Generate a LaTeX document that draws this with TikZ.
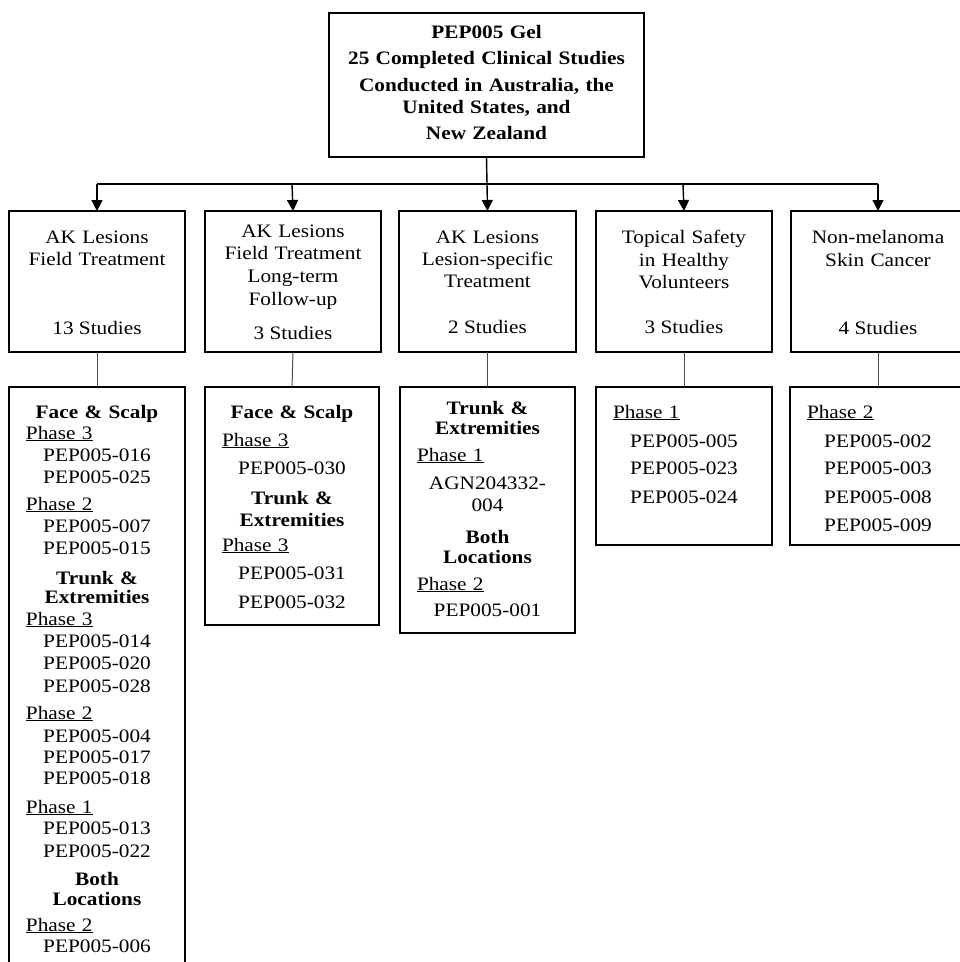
\documentclass[tikz,border=0pt]{standalone}
\usepackage{fontspec}
\setmainfont{Liberation Serif}[FakeStretch=1.12]
\usetikzlibrary{arrows.meta}
\tikzset{
  box/.style={draw=black, line width=1.4pt, inner sep=0pt, outer sep=0pt, anchor=north west},
  txt/.style={inner sep=0pt, outer sep=0pt, anchor=base, align=center, text=black, font=\fontsize{19}{22}\selectfont},
  boldtxt/.style={txt, font=\fontsize{19}{22}\selectfont\bfseries},
  arr/.style={line width=1.4pt, -{Triangle[length=11pt,width=11pt]}},
  bus/.style={line width=1.4pt},
  link/.style={line width=1pt, draw=black!70},
}
\newcommand{\ph}[1]{\makebox[\linewidth][l]{\underline{Phase #1}}}
\begin{document}
\begin{tikzpicture}[x=1pt, y=-1pt]
\useasboundingbox (0,0) rectangle (960,962);
\clip (0,0) rectangle (960,962);
% top box
\node[box, minimum width=315, minimum height=144] (top) at (329,13) {};
\node[boldtxt, text width=305] (toptxt) at (486.5,38) {PEP005 Gel\\[4pt]25 Completed Clinical Studies\\[5pt]Conducted in Australia, the\\United States, and\\[4pt]New Zealand};
% level 2 boxes
\node[box, minimum width=176, minimum height=141] (l2a) at (9,211) {};
\node[box, minimum width=176, minimum height=141] (l2b) at (205,211) {};
\node[box, minimum width=177, minimum height=141] (l2c) at (399,211) {};
\node[box, minimum width=176, minimum height=141] (l2d) at (596,211) {};
\node[box, minimum width=174, minimum height=141] (l2e) at (791,211) {};
% level 2 texts
\node[txt, text width=170] (t2a) at (97,243) {AK Lesions\\Field Treatment};
\node[txt] (s2a) at (97,334) {13 Studies};
\node[txt, text width=170] (t2b) at (293,237) {AK Lesions\\Field Treatment\\[1pt]Long-term\\[1pt]Follow-up};
\node[txt] (s2b) at (293,339) {3 Studies};
\node[txt, text width=170] (t2c) at (487.5,243) {AK Lesions\\Lesion-specific\\Treatment};
\node[txt] (s2c) at (487.5,333) {2 Studies};
\node[txt, text width=170] (t2d) at (684,243) {Topical Safety\\[1pt]in Healthy\\Volunteers};
\node[txt] (s2d) at (684,333) {3 Studies};
\node[txt, text width=170] (t2e) at (878,243) {Non-melanoma\\[1pt]Skin Cancer};
\node[txt] (s2e) at (878,334) {4 Studies};
% level 3 boxes
\node[box, minimum width=176, minimum height=600] (l3a) at (9,387) {};
\node[box, minimum width=174, minimum height=238] (l3b) at (205,387) {};
\node[box, minimum width=175, minimum height=246] (l3c) at (400,387) {};
\node[box, minimum width=176, minimum height=158] (l3d) at (596,387) {};
\node[box, minimum width=176, minimum height=158] (l3e) at (790,387) {};
% level 3 texts
\node[txt, text width=142] (t3a) at (97,418) {\textbf{Face \& Scalp}\\[-1pt]
\ph3\\
PEP005-016\\
PEP005-025\\[5pt]
\ph2\\
PEP005-007\\
PEP005-015\\[8pt]
\textbf{Trunk \&}\\[-3pt]
\textbf{Extremities}\\
\ph3\\
PEP005-014\\
PEP005-020\\[1pt]
PEP005-028\\[5pt]
\ph2\\[1pt]
PEP005-004\\[-1pt]
PEP005-017\\[-1pt]
PEP005-018\\[7pt]
\ph1\\[-1pt]
PEP005-013\\[1pt]
PEP005-022\\[6pt]
\textbf{Both}\\[-2pt]
\textbf{Locations}\\[4pt]
\ph2\\[-1pt]
PEP005-006};
\node[txt, text width=140] (t3b) at (292,418) {\textbf{Face \& Scalp}\\[6pt]
\ph3\\[6pt]
PEP005-030\\[8pt]
\textbf{Trunk \&}\\
\textbf{Extremities}\\[3pt]
\ph3\\[6pt]
PEP005-031\\[7pt]
PEP005-032};
\node[txt, text width=141] (t3c) at (487.5,414) {\textbf{Trunk \&}\\[-2pt]
\textbf{Extremities}\\[5pt]
\ph1\\[6pt]
AGN204332-\\
004\\[10pt]
\textbf{Both}\\[-2pt]
\textbf{Locations}\\[5pt]
\ph2\\[4pt]
PEP005-001};
\node[txt, text width=142] (t3d) at (684,418) {\ph1\\[7pt]
PEP005-005\\[5pt]
PEP005-023\\[7pt]
PEP005-024};
\node[txt, text width=142] (t3e) at (878,418) {\ph2\\[7pt]
PEP005-002\\[5pt]
PEP005-003\\[7pt]
PEP005-008\\[6pt]
PEP005-009};
% connectors
\coordinate (busL) at (97,184);
\coordinate (busR) at (878,184);
\coordinate (busB) at (292,184);
\coordinate (busD) at (683,184);
\draw[bus] (busL) -- (busR);
\draw[arr] (top.south) -- (l2c.north);
\draw[arr] (busL) -- (l2a.north);
\draw[arr] (busB) -- (l2b.north);
\draw[arr] (busD) -- (l2d.north);
\draw[arr] (busR) -- (l2e.north);
\draw[link] (l2a.south) -- (l3a.north);
\draw[link] (l2b.south) -- (l3b.north);
\draw[link] (l2c.south) -- (l3c.north);
\draw[link] (l2d.south) -- (l3d.north);
\draw[link] (l2e.south) -- (l3e.north);
\end{tikzpicture}
\end{document}
